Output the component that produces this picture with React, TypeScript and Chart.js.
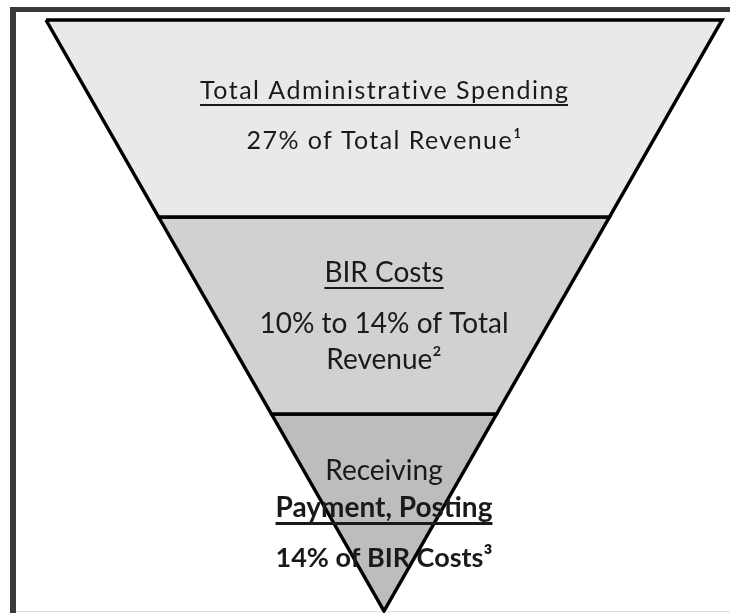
import React, { useEffect, useRef } from "react";
import { Chart, registerables } from "chart.js";

Chart.register(...registerables);

// Funnel levels (top to bottom)
const levels = ["Total Administrative Spending", "BIR Costs", "Receiving Payment, Posting"];
// Funnel width at each level boundary, as % of the top width
const boundaryWidths = [100, 66.7, 33.3, 0];
// Text shown inside each level
const levelLines: string[][] = [
  ["Total Administrative Spending", "27% of Total Revenue\u00B9"],
  ["BIR Costs", "10% to 14% of Total", "Revenue\u00B2"],
  ["Receiving", "Payment, Posting", "14% of BIR Costs\u00B3"],
];
const levelColors = ["#e9e9e9", "#d1d1d1", "#bdbdbd"];

type LineStyle = { size: number; bold?: boolean; underline?: boolean; dy: number; ls?: number };
const lineStyles: LineStyle[][] = [
  [
    { size: 25, underline: true, dy: -19.5, ls: 1.5 },
    { size: 25, dy: 30.5, ls: 1.4 },
  ],
  [
    { size: 28, underline: true, dy: -33.5 },
    { size: 28, dy: 17.5 },
    { size: 28, dy: 53.5 },
  ],
  [
    { size: 28, dy: -32.5 },
    { size: 28, bold: true, underline: true, dy: 4.5 },
    { size: 27, bold: true, dy: 54.5 },
  ],
];

const FONT = "Lato, 'Open Sans', sans-serif";

const framePlugin = {
  id: "frame",
  beforeDraw(chart: any) {
    const ctx = chart.ctx;
    ctx.save();
    ctx.fillStyle = "#ffffff";
    ctx.fillRect(0, 0, chart.width, chart.height);
    ctx.fillStyle = "#3a3a3a";
    ctx.fillRect(10, 7, chart.width - 10, 5);
    ctx.fillRect(10, 7, 6, chart.height - 7);
    ctx.fillStyle = "#dedede";
    ctx.fillRect(16, chart.height - 2, chart.width - 16, 1);
    ctx.restore();
  },
};

const textPlugin = {
  id: "funnelText",
  afterDatasetsDraw(chart: any) {
    const ctx = chart.ctx;
    const xs = chart.scales.x;
    const ys = chart.scales.y;
    const cx = xs.getPixelForValue(50);
    ctx.save();
    ctx.fillStyle = "#1a1a1a";
    ctx.strokeStyle = "#1a1a1a";
    ctx.textAlign = "left";
    ctx.textBaseline = "alphabetic";
    levelLines.forEach((lines, i) => {
      const cy = ys.getPixelForValue(i + 0.5);
      lines.forEach((txt, j) => {
        const st = lineStyles[i][j];
        ctx.font = `${st.bold ? "bold " : ""}${st.size}px ${FONT}`;
        const ls = st.ls || 0;
        (ctx as any).letterSpacing = `${ls}px`;
        const w = ctx.measureText(txt).width - ls;
        const x0 = cx - w / 2;
        const y = cy + st.dy;
        ctx.fillText(txt, x0, y);
        if (st.underline) {
          ctx.fillRect(x0, y + 5, w, st.bold ? 3 : 2);
        }
      });
    });
    ctx.restore();
  },
};

export default function App() {
  const ref = useRef<HTMLCanvasElement | null>(null);
  useEffect(() => {
    if (!ref.current) return;
    const datasets = levels.map((name, i) => {
      const wt = boundaryWidths[i];
      const wb = boundaryWidths[i + 1];
      const pts = [
        { x: 50 - wt / 2, y: i },
        { x: 50 + wt / 2, y: i },
        { x: 50 + wb / 2, y: i + 1 },
        { x: 50 - wb / 2, y: i + 1 },
        { x: 50 - wt / 2, y: i },
      ];
      return {
        label: name,
        data: pts,
        showLine: true,
        fill: "shape" as any,
        backgroundColor: levelColors[i],
        borderColor: "#000000",
        borderWidth: 3.5,
        borderJoinStyle: "miter" as any,
        pointRadius: 0,
        pointHoverRadius: 0,
        tension: 0,
        clip: false as any,
      };
    });
    const chart = new Chart(ref.current, {
      type: "scatter",
      data: { datasets },
      options: {
        animation: false,
        responsive: false,
        devicePixelRatio: 1,
        layout: { padding: { left: 46, right: 8, top: 20, bottom: 2 } },
        plugins: { legend: { display: false }, tooltip: { enabled: false } },
        scales: {
          x: { type: "linear", min: 0, max: 100, display: false },
          y: { type: "linear", min: 0, max: 3, reverse: true, display: false },
        },
      },
      plugins: [framePlugin, textPlugin],
    });
    return () => chart.destroy();
  }, []);
  return (
    <div style={{ position: "absolute", left: 0, top: 0, width: 730, height: 613 }}>
      <canvas ref={ref} width={730} height={613} style={{ display: "block" }} />
    </div>
  );
}
